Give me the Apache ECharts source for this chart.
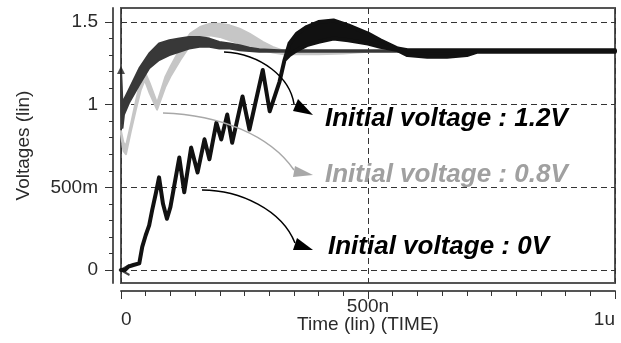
<!DOCTYPE html>
<html>
<head>
<meta charset="utf-8">
<script src="https://cdn.jsdelivr.net/npm/echarts@6/dist/echarts.min.js"></script>
<style>
html,body{margin:0;padding:0;background:#fff;}
#chart{width:621px;height:343px;}
</style>
</head>
<body>
<div id="chart"></div>
<script>
// time in ns, voltage in V (upper / lower edge of the ripple band)
var timeA = [0, 1, 3, 6, 16, 37, 57, 77, 98, 118, 138, 159, 179, 199, 220, 240, 260, 280, 320, 400, 500, 600, 700, 800, 900, 1000];
var hiA   = [1.21, 1.15, 1.0, 1.03, 1.09, 1.22, 1.31, 1.37, 1.39, 1.40, 1.41, 1.41, 1.40, 1.38, 1.37, 1.36, 1.345, 1.335, 1.33, 1.33, 1.33, 1.33, 1.33, 1.33, 1.33, 1.33];
var loA   = [1.21, 0.95, 0.86, 0.94, 1.01, 1.12, 1.22, 1.27, 1.30, 1.32, 1.34, 1.35, 1.35, 1.34, 1.34, 1.33, 1.325, 1.32, 1.32, 1.32, 1.32, 1.32, 1.32, 1.32, 1.32, 1.32];

var timeB = [0, 5, 10, 20, 30, 40, 48, 58, 73, 90, 100, 120, 140, 160, 180, 200, 220, 240, 260, 287, 307, 330, 400, 450, 500];
var hiB   = [0.84, 0.77, 0.75, 0.88, 1.02, 1.15, 1.20, 1.13, 1.01, 1.17, 1.23, 1.34, 1.43, 1.47, 1.49, 1.49, 1.48, 1.46, 1.43, 1.38, 1.35, 1.325, 1.315, 1.32, 1.325];
var loB   = [0.82, 0.72, 0.70, 0.84, 0.97, 1.09, 1.15, 1.07, 0.97, 1.11, 1.17, 1.27, 1.36, 1.41, 1.42, 1.41, 1.39, 1.37, 1.34, 1.33, 1.315, 1.305, 1.305, 1.31, 1.32];

var timeC = [0, 8, 15, 25, 37, 43, 50, 57, 63, 71, 77, 85, 93, 100, 106, 118, 128, 142, 155, 169, 179, 193, 203, 215, 225, 246, 260, 287, 301, 321, 331, 341, 356, 376, 400, 430, 460, 500, 525, 560, 580, 620, 660, 700, 720, 1000];
var hiC   = [0, 0, 0.02, 0.03, 0.04, 0.14, 0.21, 0.27, 0.36, 0.47, 0.56, 0.40, 0.31, 0.38, 0.48, 0.68, 0.47, 0.74, 0.59, 0.79, 0.67, 0.89, 0.79, 0.94, 0.77, 1.05, 0.85, 1.21, 0.96, 1.14, 1.27, 1.37, 1.43, 1.47, 1.50, 1.51, 1.48, 1.43, 1.39, 1.34, 1.33, 1.33, 1.33, 1.33, 1.33, 1.33];
var loC   = [0, 0, 0.02, 0.03, 0.04, 0.14, 0.21, 0.27, 0.36, 0.47, 0.56, 0.40, 0.31, 0.38, 0.48, 0.68, 0.47, 0.74, 0.59, 0.79, 0.67, 0.89, 0.79, 0.94, 0.77, 1.05, 0.85, 1.21, 0.96, 1.14, 1.27, 1.30, 1.33, 1.36, 1.38, 1.40, 1.39, 1.37, 1.35, 1.33, 1.30, 1.29, 1.29, 1.30, 1.32, 1.32];

// axis ticks and labels
var tickY = [0, 0.1, 0.2, 0.3, 0.4, 0.5, 0.6, 0.7, 0.8, 0.9, 1.0, 1.1, 1.2, 1.3, 1.4, 1.5];
var majorY = [0, 0.5, 1, 1.5];
var majorYText = ['0', '500m', '1', '1.5'];
var tickX = [0, 50, 100, 150, 200, 250, 300, 350, 400, 450, 500, 550, 600, 650, 700, 750, 800, 850, 900, 950, 1000];
var majorX = [0, 500, 1000];
var majorXText = ['0', '500n', '1u'];

var FONT = '"Liberation Sans", Arial, sans-serif';

//band series: polygon from upper edge forward and lower edge back
function band(name, t, hi, lo, color, width){
	var rows = [];
	for(var i=0;i<t.length;i++){
		rows.push([t[i], lo[i], hi[i]]);
	}
	return {
		name:name,
		type:'custom',
		coordinateSystem:'cartesian2d',
		data:rows,
		encode:{x:0, y:[1,2]},
		silent:true,
		renderItem:function(params, api){
			if(params.dataIndex!==0) return null;
			var pts = [];
			for(var i=0;i<t.length;i++){
				pts.push(api.coord([t[i], hi[i]]));
			}
			for(var j=t.length-1;j>=0;j--){
				pts.push(api.coord([t[j], lo[j]]));
			}
			return {
				type:'polygon',
				shape:{points:pts},
				style:{fill:color, stroke:color, lineWidth:width, lineJoin:'round'}
			};
		}
	};
}

function labelOf(vals, texts){
	return function(v){
		for(var i=0;i<vals.length;i++){
			if(Math.abs(vals[i]-v)<1e-6) return texts[i];
		}
		return '';
	};
}

var dash = {color:'#333', width:1, type:[6,4]};
var axisText = {color:'#2a2a2a', fontSize:19, fontFamily:FONT};

var myChart = echarts.init(document.getElementById('chart'), null, {renderer:'canvas'});
var option = {
	animation:false,
	backgroundColor:'#fff',
	grid:{left:121, right:6, top:8, bottom:60, show:true, borderColor:'#555', borderWidth:2},
	xAxis:[
		{
			type:'value', min:0, max:1000, position:'bottom', offset:8,
			axisLine:{show:true, onZero:false, lineStyle:{color:'#555', width:2}},
			axisTick:{show:true, customValues:tickX, length:5, lineStyle:{color:'#333', width:1}},
			axisLabel:{show:false},
			splitLine:{show:false},
			name:'Time (lin) (TIME)', nameLocation:'middle', nameGap:24,
			nameTextStyle:axisText
		},
		{
			type:'value', min:0, max:1000, position:'bottom', offset:8,
			axisLine:{show:false, onZero:false},
			axisTick:{show:true, customValues:majorX, length:8, lineStyle:{color:'#333', width:1}},
			axisLabel:{show:true, customValues:[0,1000], margin:19, alignMinLabel:'left', alignMaxLabel:'right',
				formatter:labelOf(majorX, majorXText), color:'#2a2a2a', fontSize:19, fontFamily:FONT},
			splitLine:{show:true, lineStyle:dash}
		},
		{
			type:'value', min:0, max:1000, position:'bottom', offset:8,
			axisLine:{show:false, onZero:false},
			axisTick:{show:false},
			axisLabel:{show:true, customValues:[500], margin:6,
				formatter:labelOf(majorX, majorXText), color:'#2a2a2a', fontSize:19, fontFamily:FONT},
			splitLine:{show:false}
		}
	],
	yAxis:[
		{
			type:'value', min:-0.079, max:1.585, position:'left', offset:8,
			axisLine:{show:true, onZero:false, lineStyle:{color:'#555', width:2}},
			axisTick:{show:true, customValues:tickY, length:4, lineStyle:{color:'#333', width:1}},
			axisLabel:{show:false},
			splitLine:{show:false},
			name:'Voltages (lin)', nameLocation:'middle', nameGap:80, nameRotate:90,
			nameTextStyle:axisText
		},
		{
			type:'value', min:-0.079, max:1.585, position:'left', offset:8,
			axisLine:{show:false, onZero:false},
			axisTick:{show:true, customValues:majorY, length:8, lineStyle:{color:'#333', width:1}},
			axisLabel:{show:true, customValues:majorY, margin:15,
				formatter:labelOf(majorY, majorYText), color:'#2a2a2a', fontSize:19, fontFamily:FONT},
			splitLine:{show:true, lineStyle:dash}
		}
	],
	series:[
		band('0.8V', timeB, hiB, loB, '#c6c6c6', 2),
		band('1.2V', timeA, hiA, loA, '#383838', 2),
		band('0V', timeC, hiC, loC, '#111', 4),
		{
			name:'start',
			type:'scatter',
			silent:true,
			data:[
				{value:[timeA[0], hiA[0]], symbol:'triangle', symbolSize:8, itemStyle:{color:'#222'}},
				{value:[timeC[0], hiC[0]], symbol:'path://M10,0 L0,5 L10,10', symbolSize:[9,10], symbolOffset:[4,0], itemStyle:{color:'none', borderColor:'#111', borderWidth:2}}
			]
		}
	],
	graphic:[
		{type:'bezierCurve', z:100, shape:{x1:224,y1:52,cpx1:262,cpy1:54,cpx2:290,cpy2:78,x2:294,y2:104}, style:{stroke:'#000', lineWidth:1.5, fill:null}},
		{type:'polygon', z:100, shape:{points:[[313,115],[298,99],[293,111]]}, style:{fill:'#000'}},
		{type:'bezierCurve', z:100, shape:{x1:163,y1:113,cpx1:220,cpy1:115,cpx2:270,cpy2:135,x2:294,y2:170}, style:{stroke:'#a8a8a8', lineWidth:1.5, fill:null}},
		{type:'polygon', z:100, shape:{points:[[313,175],[295,166],[293,177]]}, style:{fill:'#a8a8a8'}},
		{type:'bezierCurve', z:100, shape:{x1:202,y1:190,cpx1:240,cpy1:190,cpx2:282,cpy2:210,x2:295,y2:243}, style:{stroke:'#000', lineWidth:1.5, fill:null}},
		{type:'polygon', z:100, shape:{points:[[313,250],[297,238],[293,250]]}, style:{fill:'#000'}},
		{type:'text', z:100, x:325, y:119, style:{text:'Initial voltage : 1.2V', font:'italic bold 26px ' + FONT, fill:'#000', verticalAlign:'middle'}},
		{type:'text', z:100, x:325, y:175, style:{text:'Initial voltage : 0.8V', font:'italic bold 26px ' + FONT, fill:'#a0a0a0', verticalAlign:'middle'}},
		{type:'text', z:100, x:328, y:247, style:{text:'Initial voltage : 0V', font:'italic bold 26px ' + FONT, fill:'#000', verticalAlign:'middle'}}
	]
};
myChart.setOption(option);
</script>
</body>
</html>
